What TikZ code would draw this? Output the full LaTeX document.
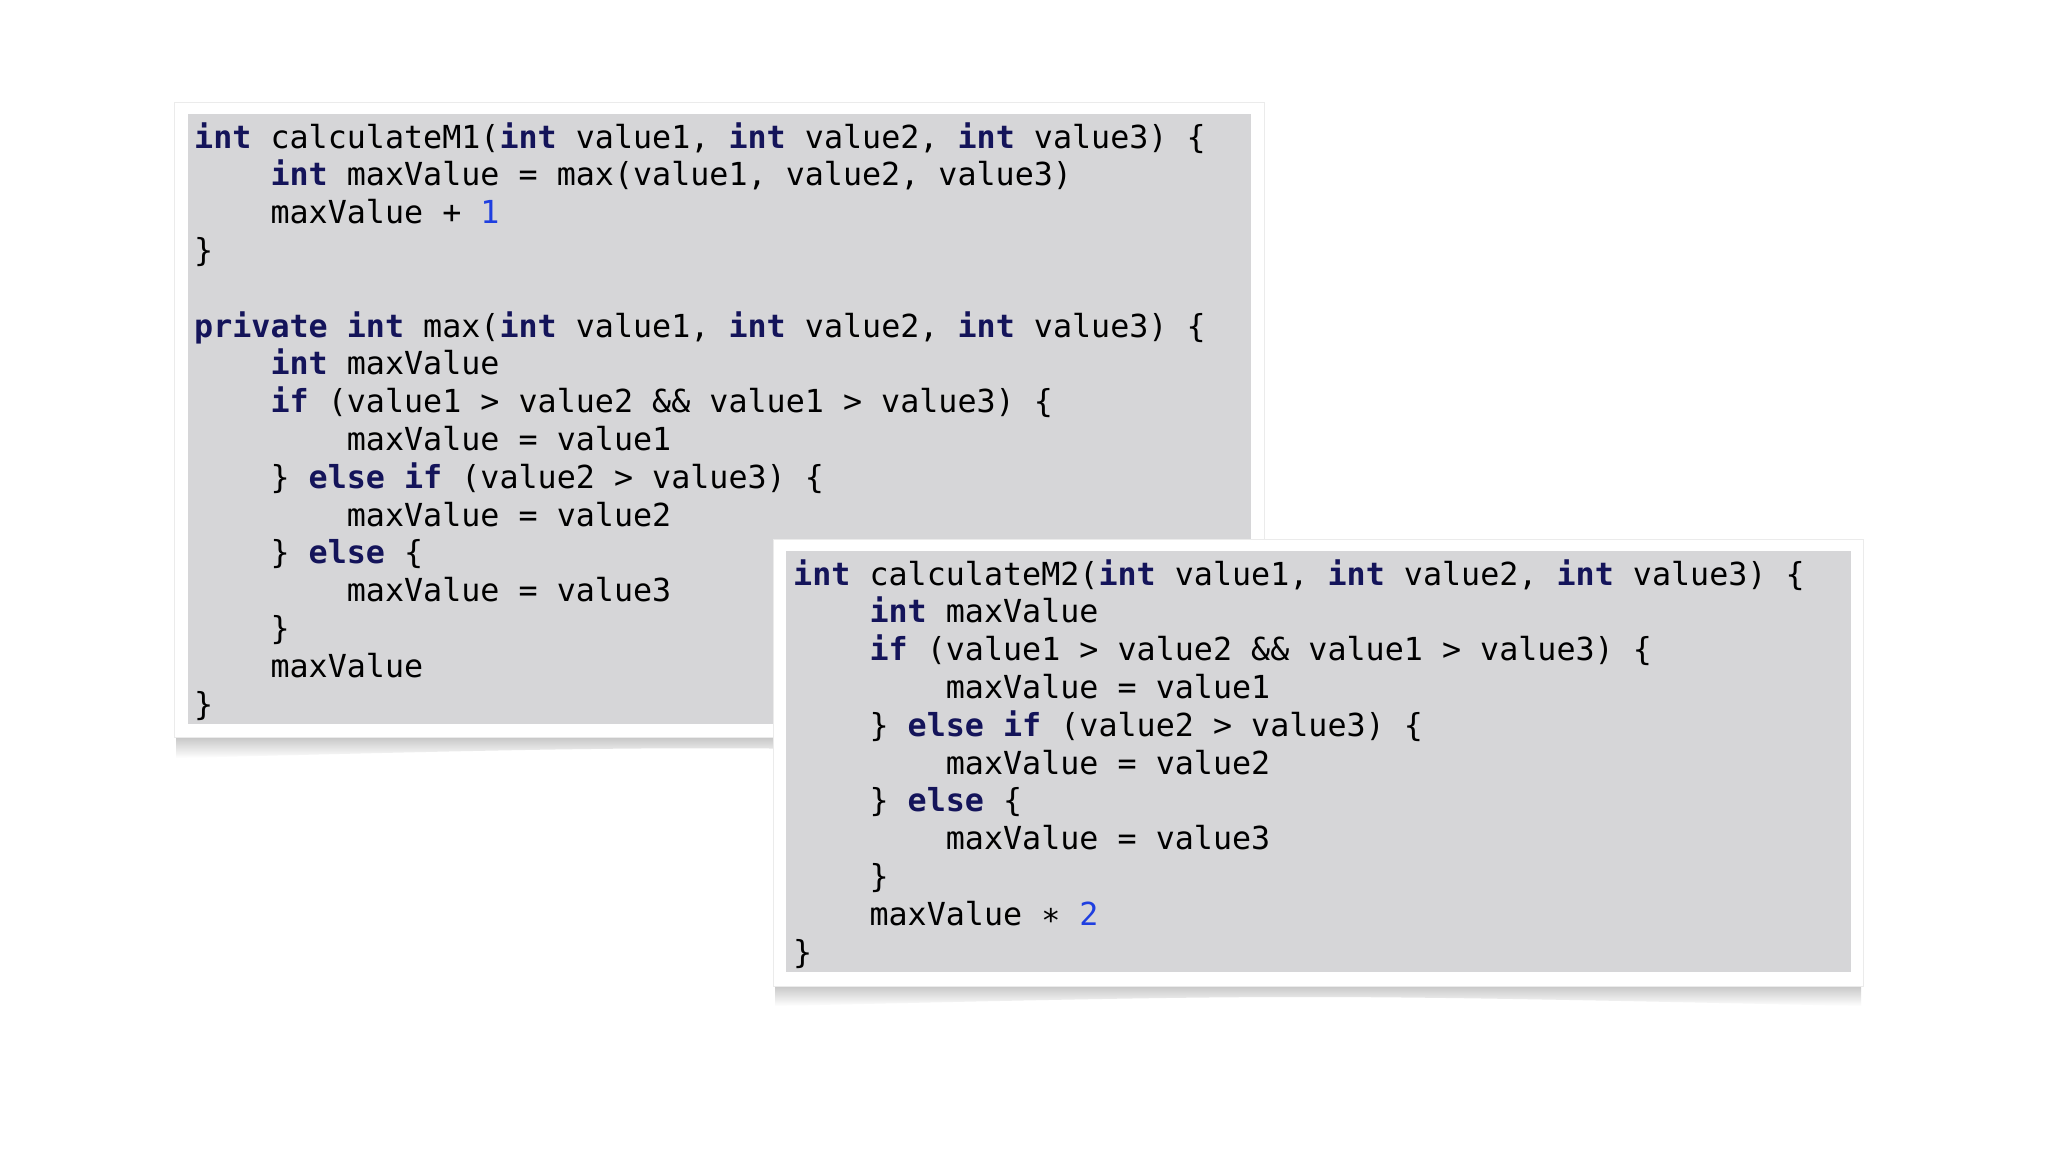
\documentclass[tikz,border=0pt]{standalone}
\usepackage{fontspec}
\setmonofont{DejaVu Sans Mono}
\definecolor{kwc}{HTML}{14145A}
\definecolor{numc}{HTML}{1F3FE0}
\definecolor{boxg}{HTML}{D6D6D8}
\newcommand{\kw}[1]{\textbf{\color{kwc}#1}}
\newcommand{\nm}[1]{{\color{numc}#1}}
\newcommand{\ind}[1]{\hspace*{#1\dimexpr 0.602em\relax}}
\begin{document}
\begin{tikzpicture}[x=1pt,y=-1pt,
  codeline/.style={anchor=base west,inner sep=0pt,font=\ttfamily\fontsize{31.7}{37.8}\selectfont},
  frame/.style={fill=white,draw=black!8,line width=1pt},
  grey/.style={fill=boxg}]
\useasboundingbox (0,0) rectangle (2048,1152);
\fill[white] (0,0) rectangle (2048,1152);
% box 1
\shade[top color=black!35,bottom color=white] (176,737) .. controls (700,725) .. (1262,737) -- (1262,758) .. controls (700,745) .. (176,758) -- cycle;
\draw[frame] (174,102) rectangle (1264,737);
\fill[grey] (188,114) rectangle (1251,724);
\foreach \i/\t in {0/{\kw{int} calculateM1(\kw{int} value1, \kw{int} value2, \kw{int} value3) \{},
 1/{\ind{4}\kw{int} maxValue = max(value1, value2, value3)},
 2/{\ind{4}maxValue + \nm{1}},
 3/{\}},
 5/{\kw{private} \kw{int} max(\kw{int} value1, \kw{int} value2, \kw{int} value3) \{},
 6/{\ind{4}\kw{int} maxValue},
 7/{\ind{4}\kw{if} (value1 > value2 \&\& value1 > value3) \{},
 8/{\ind{8}maxValue = value1},
 9/{\ind{4}\} \kw{else} \kw{if} (value2 > value3) \{},
 10/{\ind{8}maxValue = value2},
 11/{\ind{4}\} \kw{else} \{},
 12/{\ind{8}maxValue = value3},
 13/{\ind{4}\}},
 14/{\ind{4}maxValue},
 15/{\}}}
  \node[codeline] (a\i) at (194,148+37.8*\i) {\t};
% box 2
\shade[top color=black!35,bottom color=white] (775,986) .. controls (1300,974) .. (1861,986) -- (1861,1006) .. controls (1300,994) .. (775,1006) -- cycle;
\draw[frame] (773,539) rectangle (1863,986);
\fill[grey] (786,551) rectangle (1851,972);
\foreach \i/\t in {0/{\kw{int} calculateM2(\kw{int} value1, \kw{int} value2, \kw{int} value3) \{},
 1/{\ind{4}\kw{int} maxValue},
 2/{\ind{4}\kw{if} (value1 > value2 \&\& value1 > value3) \{},
 3/{\ind{8}maxValue = value1},
 4/{\ind{4}\} \kw{else} \kw{if} (value2 > value3) \{},
 5/{\ind{8}maxValue = value2},
 6/{\ind{4}\} \kw{else} \{},
 7/{\ind{8}maxValue = value3},
 8/{\ind{4}\}},
 9/{\ind{4}maxValue ∗ \nm{2}},
 10/{\}}}
  \node[codeline] (b\i) at (793,585+37.8*\i) {\t};
\end{tikzpicture}
\end{document}
